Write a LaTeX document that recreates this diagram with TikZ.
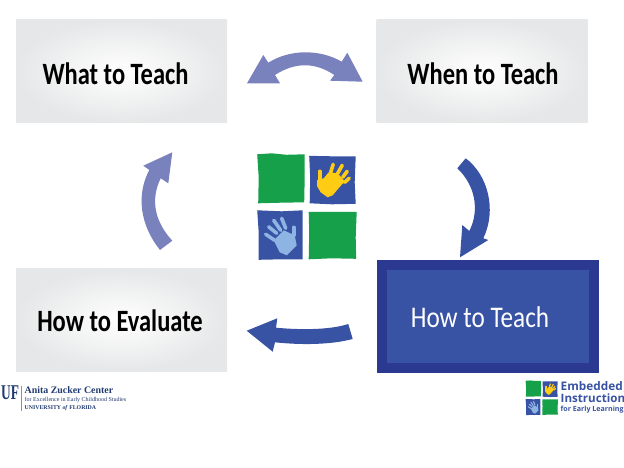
\documentclass[tikz,border=0pt]{standalone}
\usepackage{fontspec}
\setmainfont{Carlito}
\newfontfamily\titlefont[FakeStretch=0.79]{Carlito}
\newfontfamily\howfont[FakeStretch=0.84]{Carlito}
\newfontfamily\logosans{Open Sans}
\newfontfamily\logoserif{Liberation Serif}
\newfontfamily\ufserif[FakeStretch=0.64]{Liberation Serif}
\definecolor{boxgray}{HTML}{E6E7E8}
\definecolor{arrowlight}{HTML}{7A82BE}
\definecolor{arrowdark}{HTML}{3953A4}
\definecolor{borderdark}{HTML}{2B3990}
\definecolor{logogreen}{HTML}{16A04A}
\definecolor{logoyellow}{HTML}{FFCC14}
\definecolor{logolight}{HTML}{8DB4E2}
\definecolor{ufnavy}{HTML}{1F3A70}
\definecolor{uforange}{HTML}{E8743B}
\tikzset{
	graybox/.style={minimum width=211pt, minimum height=102.5pt, inner sep=0pt, inner color=white, outer color=boxgray},
	title/.style={font=\titlefont\fontsize{31}{31}\selectfont\bfseries, text=black},
	logotext/.style={anchor=west, inner sep=0pt},
}
% logo: center x, center y, scale
\newcommand{\drawlogo}[3]{
	\begin{scope}[shift={(#1,#2)}, scale=#3, line cap=round, line width=#3*3.6pt]
		\fill[logogreen] (-49.5,-53) -- (-35,-54) -- (-20,-52.5) -- (-2,-53) -- (-2,-30) -- (-2.5,-5) -- (-30,-4.5) -- (-48.5,-4) -- (-48,-30) -- cycle;
		\fill[arrowdark] (2.5,-51.5) -- (25,-51) -- (49,-51) -- (48,-25) -- (49,-3.5) -- (25,-3) -- (3,-4) -- (3.5,-30) -- cycle;
		\fill[arrowdark] (-49.5,3) -- (-25,4) -- (-4,3) -- (-4,30) -- (-4,52) -- (-25,52) -- (-48,52.5) -- (-48,25) -- cycle;
		\fill[logogreen] (2,4.5) -- (25,4.5) -- (50,4.5) -- (49,30) -- (49.5,51.5) -- (25,51) -- (2,52) -- (2.5,25) -- cycle;
		% yellow hand
		\fill[logoyellow] (10.5,-27) -- (17,-29) -- (22,-35) -- (31,-34) -- (38,-26) -- (31,-18) -- (26,-12) -- (21,-10) -- (14,-15) -- (10.5,-21) -- cycle;
		\draw[logoyellow] (24,-35) -- (26.5,-43);
		\draw[logoyellow] (31,-34) -- (35.5,-42);
		\draw[logoyellow] (36,-30) -- (40.5,-36);
		\draw[logoyellow] (38,-25) -- (42.5,-29);
		\draw[logoyellow] (13,-28) -- (13,-36);
		% light hand
		\fill[logolight] (-33,33) -- (-23,23) -- (-12,28) -- (-10,38) -- (-20,48) -- (-27,45) -- cycle;
		\draw[logolight] (-32,33) -- (-41,27);
		\draw[logolight] (-30,26) -- (-38,19.5);
		\draw[logolight] (-26,23) -- (-33,13);
		\draw[logolight] (-21,21) -- (-25,11);
		\draw[logolight] (-13,28) -- (-13,20);
	\end{scope}
}
\begin{document}
\begin{tikzpicture}[x=1pt, y=-1pt]
	\useasboundingbox (0,0) rectangle (624,468);
	\coordinate (whatcenter) at (121.5,71.2);
	\coordinate (whencenter) at (482,71.2);
	\coordinate (evalcenter) at (121.5,320);
	\coordinate (howcenter) at (488.3,316.7);
	% boxes
	\node[graybox] (what) at (whatcenter) {};
	\node[graybox] (when) at (whencenter) {};
	\node[graybox] (evaluate) at (evalcenter) {};
	\node[draw=borderdark, line width=10pt, fill=arrowdark, minimum width=212pt, minimum height=103.3pt, inner sep=0pt] (how) at (howcenter) {};
	% titles
	\node[title] (whatlabel) at (115.5,74) {What to Teach};
	\node[title] (whenlabel) at (483,74) {When to Teach};
	\node[title] (evallabel) at (120,321) {How to Evaluate};
	\node[font=\howfont\fontsize{30}{30}\selectfont, text=white] (howlabel) at (480,317) {How to Teach};
	% double arrow on top
	\fill[arrowlight] (247,83.3) -- (263.3,55) -- (268.3,62.7)
		.. controls (290,49) and (320,49) .. (341.7,61.7)
		-- (347.3,52.7) -- (362.7,81.7) -- (330,80.7) -- (334.3,75)
		.. controls (315,62) and (295,62) .. (275,75)
		-- (280,83.3) -- cycle;
	% left arrow
	\fill[arrowlight] (172.3,152.3) -- (143.3,165.7) -- (149.3,170)
		.. controls (136,195) and (140,225) .. (160,250)
		-- (172.3,240.7)
		.. controls (155,222) and (150,200) .. (160.7,178.3)
		-- (168.3,183.3) -- cycle;
	% right arrow
	\fill[arrowdark] (457.3,168.3) -- (465.7,158.3)
		.. controls (488,175) and (497,210) .. (483.3,238.3)
		-- (488.3,240) -- (460,257.3) -- (462.3,225) -- (469.3,231)
		.. controls (480,210) and (475,185) .. (457.3,168.3) -- cycle;
	% bottom arrow
	\fill[arrowdark] (246.7,330.7) -- (277.3,318.3) -- (276,327.7)
		.. controls (300,330) and (330,330) .. (348.3,324)
		-- (352.7,339)
		.. controls (330,345) and (300,345) .. (275,342.3)
		-- (272.7,351.7) -- cycle;
	% logos
	\drawlogo{306.7}{207.3}{1}
	\drawlogo{541.7}{398}{0.325}
	\node[logotext, font=\logosans\fontsize{11.8}{11.8}\selectfont\bfseries, text=arrowdark] (embedded) at (560.5,386.5) {Embedded};
	\node[logotext, font=\logosans\fontsize{11.6}{11.6}\selectfont\bfseries, text=arrowdark] (instruction) at (560.5,398.5) {Instruction};
	\node[logotext, font=\logosans\fontsize{7.1}{7.1}\selectfont\bfseries, text=arrowdark] (forearly) at (560.5,410) {for Early Learning};
	\node[logotext, font=\ufserif\fontsize{21}{21}\selectfont\bfseries, text=ufnavy] (uf) at (1,393) {UF};
	\draw[uforange, line width=1pt] (21,386) -- (21,411);
	\node[logotext, font=\logoserif\fontsize{9.9}{9.9}\selectfont\bfseries, text=ufnavy] (anita) at (24.5,390) {Anita Zucker Center};
	\node[logotext, font=\logoserif\fontsize{6}{6}\selectfont, text=ufnavy] (excellence) at (24.5,400) {for Excellence in Early Childhood Studies};
	\node[logotext, font=\logoserif\fontsize{5.8}{5.8}\selectfont\bfseries, text=ufnavy] (florida) at (24.5,408) {UNIVERSITY \textit{of} FLORIDA};
\end{tikzpicture}
\end{document}
